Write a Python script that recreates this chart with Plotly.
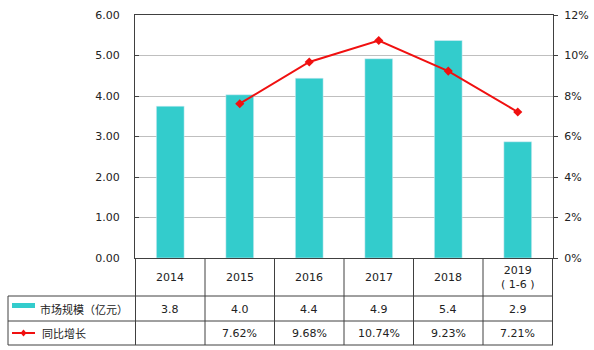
import plotly.graph_objects as go

years = ["2014", "2015", "2016", "2017", "2018", "2019"]
header_labels = ["2014", "2015", "2016", "2017", "2018", "2019<br>( 1-6 )"]
market_size = [3.75, 4.03, 4.44, 4.92, 5.37, 2.87]
market_labels = ["3.8", "4.0", "4.4", "4.9", "5.4", "2.9"]
growth = [None, 7.62, 9.68, 10.74, 9.23, 7.21]
growth_labels = ["", "7.62%", "9.68%", "10.74%", "9.23%", "7.21%"]
series_names = ["市场规模（亿元）", "同比增长"]

W, H = 594, 350
TEAL = "#33CCCC"
RED = "#F01010"
LINE = "#404040"
FONT = "DejaVu Sans, Verdana, sans-serif"
CJK = "Noto Sans CJK SC, sans-serif"

def px(x):
    return x / W

def py(y):
    return (H - y) / H

fig = go.Figure()
fig.add_trace(go.Bar(x=years, y=market_size, marker_color=TEAL, name=series_names[0],
                     yaxis="y", showlegend=False))
fig.add_trace(go.Scatter(x=years, y=growth, mode="lines+markers", name=series_names[1],
                         line=dict(color=RED, width=2),
                         marker=dict(symbol="diamond", size=7, color=RED),
                         yaxis="y2", showlegend=False))

shapes = []
# table horizontal lines
for yy in [296, 321, 345]:
    shapes.append(dict(type="line", xref="paper", yref="paper", x0=px(8), x1=px(553),
                       y0=py(yy), y1=py(yy), line=dict(color=LINE, width=1)))
# left border of legend column
shapes.append(dict(type="line", xref="paper", yref="paper", x0=px(8), x1=px(8),
                   y0=py(296), y1=py(345), line=dict(color=LINE, width=1)))
# category boundaries
for i in range(len(years) + 1):
    shapes.append(dict(type="line", xref="x", yref="paper", x0=i - 0.5, x1=i - 0.5,
                       y0=py(258), y1=py(345), line=dict(color=LINE, width=1)))
# legend keys
shapes.append(dict(type="rect", xref="paper", yref="paper", x0=px(12), x1=px(35),
                   y0=py(308), y1=py(303), fillcolor=TEAL, line=dict(width=0)))
shapes.append(dict(type="line", xref="paper", yref="paper", x0=px(12), x1=px(35),
                   y0=py(333), y1=py(333), line=dict(color=RED, width=2)))
shapes.append(dict(type="path", xref="paper", yref="paper",
                   path=f"M {px(20.5)},{py(333)} L {px(23.5)},{py(329.5)} L {px(26.5)},{py(333)} L {px(23.5)},{py(336.5)} Z",
                   fillcolor=RED, line=dict(width=0)))

annotations = []
for i, lab in enumerate(header_labels):
    annotations.append(dict(x=i, y=py(277), xref="x", yref="paper", text=lab, showarrow=False,
                            font=dict(family=FONT, size=11, color="#222"), yanchor="middle"))
    annotations.append(dict(x=i, y=py(309), xref="x", yref="paper", text=market_labels[i],
                            showarrow=False, font=dict(family=FONT, size=11, color="#222"),
                            yanchor="middle"))
    if growth_labels[i]:
        annotations.append(dict(x=i, y=py(333), xref="x", yref="paper", text=growth_labels[i],
                                showarrow=False, font=dict(family=FONT, size=11, color="#222"),
                                yanchor="middle"))
annotations.append(dict(x=px(38), y=py(309), xref="paper", yref="paper", text=series_names[0],
                        showarrow=False, xanchor="left", yanchor="middle",
                        font=dict(family=CJK, size=11, color="#222")))
annotations.append(dict(x=px(40), y=py(333), xref="paper", yref="paper", text=series_names[1],
                        showarrow=False, xanchor="left", yanchor="middle",
                        font=dict(family=CJK, size=11, color="#222")))

fig.update_layout(
    width=W, height=H,
    margin=dict(l=0, r=0, t=0, b=0),
    paper_bgcolor="white", plot_bgcolor="white",
    bargap=0.6,
    shapes=shapes,
    annotations=annotations,
    xaxis=dict(domain=[px(135), px(553)], showticklabels=False, ticks="",
               showline=True, linecolor=LINE, linewidth=1, mirror=True,
               showgrid=False, automargin=False),
    yaxis=dict(domain=[py(258), py(15)], range=[0, 6], dtick=1, tickformat=".2f",
               showline=True, linecolor=LINE, linewidth=1,
               showgrid=True, gridcolor="#BFBFBF", gridwidth=1,
               ticks="inside", ticklen=4, tickcolor=LINE,
               ticklabelstandoff=12, zeroline=False,
               tickfont=dict(family=FONT, size=11, color="#222"), automargin=False),
    yaxis2=dict(overlaying="y", side="right", range=[0, 12], dtick=2, ticksuffix="%",
                showline=True, linecolor=LINE, linewidth=1, showgrid=False,
                ticks="outside", ticklen=4, tickcolor=LINE, zeroline=False,
                ticklabelstandoff=4,
                tickfont=dict(family=FONT, size=11, color="#222"), automargin=False),
)

fig.write_html("out.html")
